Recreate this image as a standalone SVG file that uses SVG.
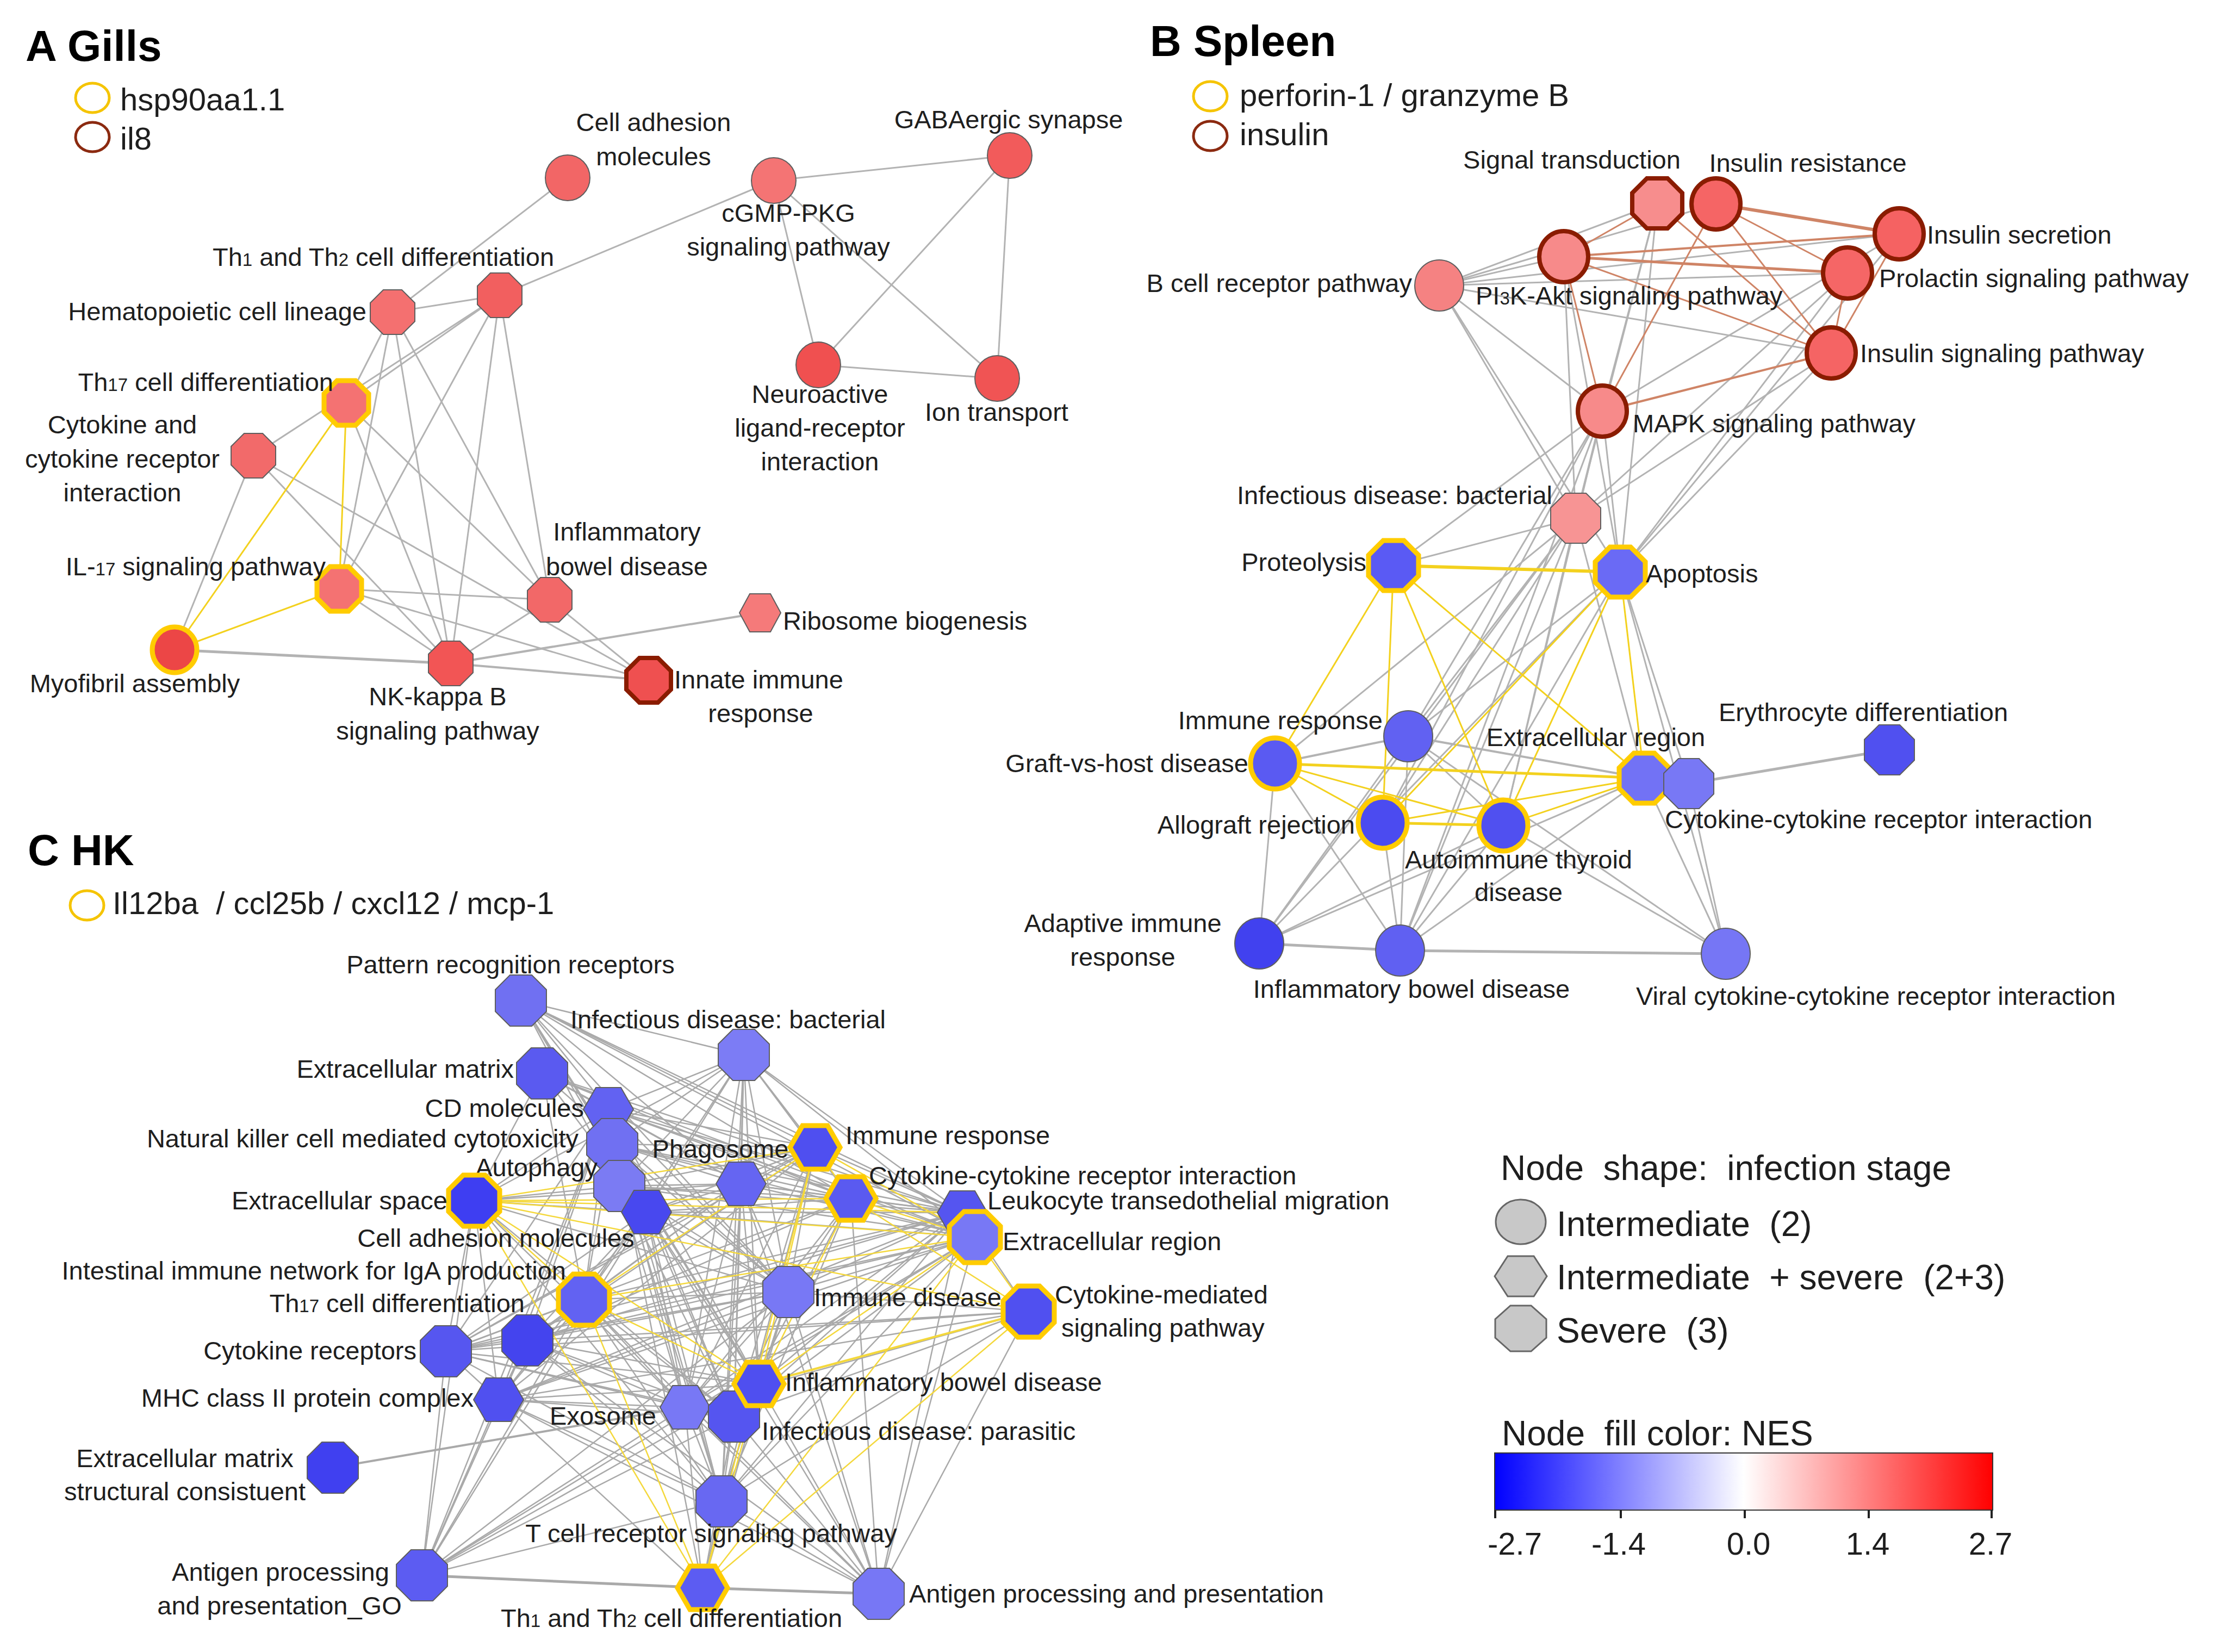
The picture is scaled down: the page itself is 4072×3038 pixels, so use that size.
<svg xmlns="http://www.w3.org/2000/svg" xmlns:xlink="http://www.w3.org/1999/xlink" width="4072" height="3038" viewBox="0 0 4072 3038">
<style>
text{font-family:"Liberation Sans",Arial,sans-serif;fill:#1e1e1e}
.t{font-size:47px}
.m{text-anchor:middle}
.r{text-anchor:end}
.title{font-size:80px;font-weight:bold;fill:#000}
.lg{font-size:58px}
.lg2{font-size:64px}
.sub{font-size:33px}
.e line{stroke:#b3b3b3;stroke-width:3}
.ec line{stroke:#a9a9a9;stroke-width:2.5}
.y line{stroke:#f3d11e;stroke-width:3}
.yc line{stroke:#f4d83c;stroke-width:2.5}
.br line{stroke:#cf8466;stroke-width:3}
.n{stroke:#5e5e5e;stroke-width:2}
.hy{stroke:#ffcc00;stroke-width:9}
.hb{stroke:#8a1c00;stroke-width:8}
.leg{fill:#c8c8c8;stroke:#666;stroke-width:3}
</style>
<defs>
<polygon id="octA" points="-17,-41 17,-41 41,-17 41,17 17,41 -17,41 -41,17 -41,-17"/>
<ellipse id="cirA" rx="41" ry="42"/>
<polygon id="hexA" points="-38,0 -19,-35 19,-35 38,0 19,35 -19,35"/>
<polygon id="octB" points="-19,-46 19,-46 46,-19 46,19 19,46 -19,46 -46,19 -46,-19"/>
<ellipse id="cirB" rx="45" ry="47"/>
<polygon id="octC" points="-20,-47 20,-47 47,-20 47,20 20,47 -20,47 -47,20 -47,-20"/>
<polygon id="hexC" points="-46,0 -23,-40 23,-40 46,0 23,40 -23,40"/>
<linearGradient id="nes" x1="0" y1="0" x2="1" y2="0">
<stop offset="0" stop-color="#0000ff"/>
<stop offset="0.5" stop-color="#ffffff"/>
<stop offset="1" stop-color="#ff0000"/>
</linearGradient>
</defs>
<rect width="4072" height="3038" fill="#fff"/>

<!-- ================= connectors ================= -->
<g id="connectors">
<g id="edges-A" class="e">
<line x1="1044" y1="327" x2="722" y2="574"/>
<line x1="1423" y1="332" x2="919" y2="543"/>
<line x1="1423" y1="332" x2="1857" y2="286"/>
<line x1="1423" y1="332" x2="1505" y2="671"/>
<line x1="1423" y1="332" x2="1834" y2="696"/>
<line x1="1857" y1="286" x2="1505" y2="671"/>
<line x1="1857" y1="286" x2="1834" y2="696"/>
<line x1="1505" y1="671" x2="1834" y2="696"/>
<line x1="722" y1="574" x2="919" y2="543"/>
<line x1="722" y1="574" x2="637" y2="741"/>
<line x1="722" y1="574" x2="624" y2="1083"/>
<line x1="722" y1="574" x2="829" y2="1220"/>
<line x1="722" y1="574" x2="1011" y2="1103"/>
<line x1="919" y1="543" x2="637" y2="741"/>
<line x1="919" y1="543" x2="466" y2="838"/>
<line x1="919" y1="543" x2="624" y2="1083"/>
<line x1="919" y1="543" x2="829" y2="1220"/>
<line x1="919" y1="543" x2="1011" y2="1103"/>
<line x1="637" y1="741" x2="829" y2="1220"/>
<line x1="637" y1="741" x2="1011" y2="1103"/>
<line x1="466" y1="838" x2="321" y2="1195"/>
<line x1="466" y1="838" x2="829" y2="1220"/>
<line x1="466" y1="838" x2="1193" y2="1251"/>
<line x1="624" y1="1083" x2="1011" y2="1103"/>
<line x1="624" y1="1083" x2="829" y2="1220"/>
<line x1="624" y1="1083" x2="1193" y2="1251"/>
<line x1="321" y1="1195" x2="829" y2="1220" style="stroke-width:5"/>
<line x1="829" y1="1220" x2="1011" y2="1103"/>
<line x1="829" y1="1220" x2="1398" y2="1127" style="stroke-width:4"/>
<line x1="829" y1="1220" x2="1193" y2="1251" style="stroke-width:4"/>
<line x1="1011" y1="1103" x2="1193" y2="1251"/>
</g>
<g id="edges-A-yellow" class="y">
<line x1="637" y1="741" x2="624" y2="1083"/>
<line x1="637" y1="741" x2="321" y2="1195"/>
<line x1="624" y1="1083" x2="321" y2="1195"/>
</g>

<g id="edges-B" class="e">
<line x1="2647" y1="525" x2="2876" y2="472"/>
<line x1="2647" y1="525" x2="3048" y2="374"/>
<line x1="2647" y1="525" x2="3156" y2="375"/>
<line x1="2647" y1="525" x2="3493" y2="430"/>
<line x1="2647" y1="525" x2="3398" y2="502"/>
<line x1="2647" y1="525" x2="3368" y2="649"/>
<line x1="2647" y1="525" x2="2947" y2="756"/>
<line x1="2647" y1="525" x2="2898" y2="953"/>
<line x1="2647" y1="525" x2="2980" y2="1052"/>
<line x1="3048" y1="374" x2="2947" y2="756"/>
<line x1="3048" y1="374" x2="2898" y2="953"/>
<line x1="3048" y1="374" x2="2980" y2="1052"/>
<line x1="2876" y1="472" x2="2898" y2="953"/>
<line x1="2876" y1="472" x2="2980" y2="1052"/>
<line x1="3398" y1="502" x2="2898" y2="953"/>
<line x1="3398" y1="502" x2="2980" y2="1052"/>
<line x1="3368" y1="649" x2="2898" y2="953"/>
<line x1="3368" y1="649" x2="2980" y2="1052"/>
<line x1="3493" y1="430" x2="2947" y2="756"/>
<line x1="3493" y1="430" x2="2980" y2="1052"/>
<line x1="2947" y1="756" x2="2898" y2="953"/>
<line x1="2947" y1="756" x2="2980" y2="1052"/>
<line x1="2947" y1="756" x2="2563" y2="1040"/>
<line x1="2947" y1="756" x2="2590" y2="1354"/>
<line x1="2947" y1="756" x2="2543" y2="1513"/>
<line x1="2947" y1="756" x2="2575" y2="1748"/>
<line x1="2947" y1="756" x2="2765" y2="1518"/>
<line x1="2898" y1="953" x2="2563" y2="1040"/>
<line x1="2898" y1="953" x2="2590" y2="1354"/>
<line x1="2898" y1="953" x2="2345" y2="1404"/>
<line x1="2898" y1="953" x2="2543" y2="1513"/>
<line x1="2898" y1="953" x2="2765" y2="1518"/>
<line x1="2898" y1="953" x2="2575" y2="1748"/>
<line x1="2898" y1="953" x2="2316" y2="1735"/>
<line x1="2898" y1="953" x2="3024" y2="1431"/>
<line x1="2980" y1="1052" x2="2590" y2="1354"/>
<line x1="2980" y1="1052" x2="2575" y2="1748"/>
<line x1="2980" y1="1052" x2="2316" y2="1735"/>
<line x1="2980" y1="1052" x2="3174" y2="1754"/>
<line x1="2980" y1="1052" x2="3106" y2="1441"/>
<line x1="2590" y1="1354" x2="2345" y2="1404" style="stroke-width:4"/>
<line x1="2590" y1="1354" x2="3024" y2="1431" style="stroke-width:4"/>
<line x1="2590" y1="1354" x2="2575" y2="1748"/>
<line x1="2590" y1="1354" x2="2316" y2="1735"/>
<line x1="2590" y1="1354" x2="2765" y2="1518"/>
<line x1="2590" y1="1354" x2="3174" y2="1754"/>
<line x1="2345" y1="1404" x2="2316" y2="1735"/>
<line x1="2345" y1="1404" x2="2575" y2="1748"/>
<line x1="2543" y1="1513" x2="2575" y2="1748"/>
<line x1="2765" y1="1518" x2="2575" y2="1748"/>
<line x1="2765" y1="1518" x2="2316" y2="1735"/>
<line x1="3024" y1="1431" x2="2316" y2="1735"/>
<line x1="3024" y1="1431" x2="2575" y2="1748"/>
<line x1="3024" y1="1431" x2="3174" y2="1754"/>
<line x1="3106" y1="1441" x2="3475" y2="1379" style="stroke-width:5"/>
<line x1="3106" y1="1441" x2="3174" y2="1754"/>
<line x1="2316" y1="1735" x2="2575" y2="1748" style="stroke-width:5"/>
<line x1="2575" y1="1748" x2="3174" y2="1754" style="stroke-width:5"/>
<line x1="2765" y1="1518" x2="3174" y2="1754"/>
</g>
<g id="edges-B-insulin" class="br">
<line x1="3048" y1="374" x2="2876" y2="472"/>
<line x1="3048" y1="374" x2="3368" y2="649"/>
<line x1="3156" y1="375" x2="3493" y2="430" style="stroke-width:6"/>
<line x1="3156" y1="375" x2="3398" y2="502"/>
<line x1="3156" y1="375" x2="3368" y2="649"/>
<line x1="3156" y1="375" x2="2947" y2="756"/>
<line x1="2876" y1="472" x2="3493" y2="430" style="stroke-width:4"/>
<line x1="2876" y1="472" x2="3398" y2="502" style="stroke-width:5"/>
<line x1="2876" y1="472" x2="3368" y2="649"/>
<line x1="2876" y1="472" x2="2947" y2="756"/>
<line x1="2947" y1="756" x2="3368" y2="649" style="stroke-width:4"/>
<line x1="3398" y1="502" x2="3368" y2="649"/>
<line x1="3493" y1="430" x2="3368" y2="649"/>
</g>
<g id="edges-B-yellow" class="y">
<line x1="2563" y1="1040" x2="2980" y2="1052" style="stroke-width:6"/>
<line x1="2563" y1="1040" x2="2345" y2="1404"/>
<line x1="2563" y1="1040" x2="2543" y2="1513"/>
<line x1="2563" y1="1040" x2="2765" y2="1518"/>
<line x1="2563" y1="1040" x2="3024" y2="1431"/>
<line x1="2980" y1="1052" x2="2543" y2="1513"/>
<line x1="2980" y1="1052" x2="2765" y2="1518"/>
<line x1="2980" y1="1052" x2="3024" y2="1431"/>
<line x1="2345" y1="1404" x2="3024" y2="1431" style="stroke-width:5"/>
<line x1="2345" y1="1404" x2="2543" y2="1513"/>
<line x1="2345" y1="1404" x2="2765" y2="1518"/>
<line x1="2543" y1="1513" x2="2765" y2="1518" style="stroke-width:5"/>
<line x1="2543" y1="1513" x2="3024" y2="1431"/>
<line x1="2765" y1="1518" x2="3024" y2="1431"/>
</g>

<g id="edges-C" class="ec">
<line x1="958" y1="1840" x2="1368" y2="1940"/>
<line x1="958" y1="1840" x2="1119" y2="2040"/>
<line x1="958" y1="1840" x2="1126" y2="2104"/>
<line x1="958" y1="1840" x2="1139" y2="2181"/>
<line x1="958" y1="1840" x2="1189" y2="2229"/>
<line x1="958" y1="1840" x2="1363" y2="2177"/>
<line x1="958" y1="1840" x2="1499" y2="2110"/>
<line x1="958" y1="1840" x2="1565" y2="2204"/>
<line x1="958" y1="1840" x2="1770" y2="2230"/>
<line x1="958" y1="1840" x2="1793" y2="2275"/>
<line x1="958" y1="1840" x2="1450" y2="2376"/>
<line x1="958" y1="1840" x2="1396" y2="2545"/>
<line x1="1368" y1="1940" x2="1119" y2="2040"/>
<line x1="1368" y1="1940" x2="1126" y2="2104"/>
<line x1="1368" y1="1940" x2="1139" y2="2181"/>
<line x1="1368" y1="1940" x2="1363" y2="2177"/>
<line x1="1368" y1="1940" x2="1499" y2="2110"/>
<line x1="1368" y1="1940" x2="1565" y2="2204"/>
<line x1="1368" y1="1940" x2="1770" y2="2230"/>
<line x1="1368" y1="1940" x2="1793" y2="2275"/>
<line x1="1368" y1="1940" x2="1450" y2="2376"/>
<line x1="1368" y1="1940" x2="872" y2="2208"/>
<line x1="1368" y1="1940" x2="1189" y2="2229"/>
<line x1="1368" y1="1940" x2="1074" y2="2390"/>
<line x1="1368" y1="1940" x2="1396" y2="2545"/>
<line x1="1368" y1="1940" x2="1260" y2="2588"/>
<line x1="1368" y1="1940" x2="1350" y2="2605"/>
<line x1="1368" y1="1940" x2="1327" y2="2761"/>
<line x1="997" y1="1974" x2="1119" y2="2040"/>
<line x1="997" y1="1974" x2="872" y2="2208"/>
<line x1="997" y1="1974" x2="1189" y2="2229"/>
<line x1="997" y1="1974" x2="1363" y2="2177"/>
<line x1="997" y1="1974" x2="1565" y2="2204"/>
<line x1="997" y1="1974" x2="1770" y2="2230"/>
<line x1="997" y1="1974" x2="1793" y2="2275"/>
<line x1="997" y1="1974" x2="1450" y2="2376"/>
<line x1="997" y1="1974" x2="1074" y2="2390"/>
<line x1="1119" y1="2040" x2="1126" y2="2104"/>
<line x1="1119" y1="2040" x2="1139" y2="2181"/>
<line x1="1119" y1="2040" x2="872" y2="2208"/>
<line x1="1119" y1="2040" x2="1189" y2="2229"/>
<line x1="1119" y1="2040" x2="1363" y2="2177"/>
<line x1="1119" y1="2040" x2="1499" y2="2110"/>
<line x1="1119" y1="2040" x2="1565" y2="2204"/>
<line x1="1119" y1="2040" x2="1770" y2="2230"/>
<line x1="1119" y1="2040" x2="1793" y2="2275"/>
<line x1="1119" y1="2040" x2="1074" y2="2390"/>
<line x1="1119" y1="2040" x2="970" y2="2465"/>
<line x1="1119" y1="2040" x2="820" y2="2485"/>
<line x1="1119" y1="2040" x2="1450" y2="2376"/>
<line x1="1119" y1="2040" x2="1396" y2="2545"/>
<line x1="1119" y1="2040" x2="1260" y2="2588"/>
<line x1="1119" y1="2040" x2="1350" y2="2605"/>
<line x1="1119" y1="2040" x2="1327" y2="2761"/>
<line x1="1119" y1="2040" x2="1292" y2="2920"/>
<line x1="1119" y1="2040" x2="776" y2="2897"/>
<line x1="1119" y1="2040" x2="917" y2="2574"/>
<line x1="1126" y1="2104" x2="1363" y2="2177"/>
<line x1="1126" y1="2104" x2="1499" y2="2110"/>
<line x1="1126" y1="2104" x2="1565" y2="2204"/>
<line x1="1126" y1="2104" x2="1770" y2="2230"/>
<line x1="1126" y1="2104" x2="1793" y2="2275"/>
<line x1="1126" y1="2104" x2="1450" y2="2376"/>
<line x1="1126" y1="2104" x2="1396" y2="2545"/>
<line x1="1126" y1="2104" x2="1074" y2="2390"/>
<line x1="1126" y1="2104" x2="1327" y2="2761"/>
<line x1="1139" y1="2181" x2="1363" y2="2177"/>
<line x1="1139" y1="2181" x2="872" y2="2208"/>
<line x1="1139" y1="2181" x2="1499" y2="2110"/>
<line x1="1139" y1="2181" x2="1565" y2="2204"/>
<line x1="1139" y1="2181" x2="1770" y2="2230"/>
<line x1="1139" y1="2181" x2="1793" y2="2275"/>
<line x1="1139" y1="2181" x2="1450" y2="2376"/>
<line x1="1139" y1="2181" x2="1260" y2="2588"/>
<line x1="1139" y1="2181" x2="1350" y2="2605"/>
<line x1="872" y1="2208" x2="1189" y2="2229"/>
<line x1="872" y1="2208" x2="1363" y2="2177"/>
<line x1="872" y1="2208" x2="1450" y2="2376"/>
<line x1="872" y1="2208" x2="917" y2="2574"/>
<line x1="872" y1="2208" x2="820" y2="2485"/>
<line x1="872" y1="2208" x2="1260" y2="2588"/>
<line x1="872" y1="2208" x2="1350" y2="2605"/>
<line x1="872" y1="2208" x2="1327" y2="2761"/>
<line x1="872" y1="2208" x2="776" y2="2897"/>
<line x1="1189" y1="2229" x2="1363" y2="2177"/>
<line x1="1189" y1="2229" x2="1499" y2="2110"/>
<line x1="1189" y1="2229" x2="1565" y2="2204"/>
<line x1="1189" y1="2229" x2="1770" y2="2230"/>
<line x1="1189" y1="2229" x2="1793" y2="2275"/>
<line x1="1189" y1="2229" x2="1450" y2="2376"/>
<line x1="1189" y1="2229" x2="1074" y2="2390"/>
<line x1="1189" y1="2229" x2="970" y2="2465"/>
<line x1="1189" y1="2229" x2="820" y2="2485"/>
<line x1="1189" y1="2229" x2="917" y2="2574"/>
<line x1="1189" y1="2229" x2="1396" y2="2545"/>
<line x1="1189" y1="2229" x2="1260" y2="2588"/>
<line x1="1189" y1="2229" x2="1350" y2="2605"/>
<line x1="1189" y1="2229" x2="1327" y2="2761"/>
<line x1="1189" y1="2229" x2="776" y2="2897"/>
<line x1="1189" y1="2229" x2="1616" y2="2931"/>
<line x1="1363" y1="2177" x2="1499" y2="2110"/>
<line x1="1363" y1="2177" x2="1565" y2="2204"/>
<line x1="1363" y1="2177" x2="1770" y2="2230"/>
<line x1="1363" y1="2177" x2="1793" y2="2275"/>
<line x1="1363" y1="2177" x2="1450" y2="2376"/>
<line x1="1363" y1="2177" x2="1074" y2="2390"/>
<line x1="1363" y1="2177" x2="970" y2="2465"/>
<line x1="1363" y1="2177" x2="820" y2="2485"/>
<line x1="1363" y1="2177" x2="1396" y2="2545"/>
<line x1="1363" y1="2177" x2="1260" y2="2588"/>
<line x1="1363" y1="2177" x2="1350" y2="2605"/>
<line x1="1363" y1="2177" x2="1327" y2="2761"/>
<line x1="1363" y1="2177" x2="1616" y2="2931"/>
<line x1="1499" y1="2110" x2="1770" y2="2230"/>
<line x1="1499" y1="2110" x2="1450" y2="2376"/>
<line x1="1499" y1="2110" x2="970" y2="2465"/>
<line x1="1499" y1="2110" x2="820" y2="2485"/>
<line x1="1499" y1="2110" x2="917" y2="2574"/>
<line x1="1499" y1="2110" x2="1260" y2="2588"/>
<line x1="1499" y1="2110" x2="1350" y2="2605"/>
<line x1="1499" y1="2110" x2="1327" y2="2761"/>
<line x1="1565" y1="2204" x2="1770" y2="2230"/>
<line x1="1565" y1="2204" x2="1450" y2="2376"/>
<line x1="1565" y1="2204" x2="970" y2="2465"/>
<line x1="1565" y1="2204" x2="820" y2="2485"/>
<line x1="1565" y1="2204" x2="1260" y2="2588"/>
<line x1="1565" y1="2204" x2="1350" y2="2605"/>
<line x1="1565" y1="2204" x2="1327" y2="2761"/>
<line x1="1565" y1="2204" x2="1616" y2="2931"/>
<line x1="1770" y1="2230" x2="1793" y2="2275"/>
<line x1="1770" y1="2230" x2="1450" y2="2376"/>
<line x1="1770" y1="2230" x2="1892" y2="2412"/>
<line x1="1770" y1="2230" x2="1074" y2="2390"/>
<line x1="1770" y1="2230" x2="970" y2="2465"/>
<line x1="1770" y1="2230" x2="820" y2="2485"/>
<line x1="1770" y1="2230" x2="917" y2="2574"/>
<line x1="1770" y1="2230" x2="1396" y2="2545"/>
<line x1="1770" y1="2230" x2="1260" y2="2588"/>
<line x1="1770" y1="2230" x2="1350" y2="2605"/>
<line x1="1770" y1="2230" x2="1327" y2="2761"/>
<line x1="1770" y1="2230" x2="1616" y2="2931"/>
<line x1="1793" y1="2275" x2="1450" y2="2376"/>
<line x1="1793" y1="2275" x2="970" y2="2465"/>
<line x1="1793" y1="2275" x2="820" y2="2485"/>
<line x1="1793" y1="2275" x2="917" y2="2574"/>
<line x1="1793" y1="2275" x2="1260" y2="2588"/>
<line x1="1793" y1="2275" x2="1350" y2="2605"/>
<line x1="1793" y1="2275" x2="1327" y2="2761"/>
<line x1="1793" y1="2275" x2="1616" y2="2931"/>
<line x1="1793" y1="2275" x2="776" y2="2897"/>
<line x1="1074" y1="2390" x2="1450" y2="2376"/>
<line x1="1074" y1="2390" x2="970" y2="2465"/>
<line x1="1074" y1="2390" x2="820" y2="2485"/>
<line x1="1074" y1="2390" x2="917" y2="2574"/>
<line x1="1074" y1="2390" x2="1260" y2="2588"/>
<line x1="1074" y1="2390" x2="1350" y2="2605"/>
<line x1="1074" y1="2390" x2="1327" y2="2761"/>
<line x1="1074" y1="2390" x2="776" y2="2897"/>
<line x1="1074" y1="2390" x2="1616" y2="2931"/>
<line x1="970" y1="2465" x2="820" y2="2485"/>
<line x1="970" y1="2465" x2="1450" y2="2376"/>
<line x1="970" y1="2465" x2="917" y2="2574"/>
<line x1="970" y1="2465" x2="1396" y2="2545"/>
<line x1="970" y1="2465" x2="1260" y2="2588"/>
<line x1="970" y1="2465" x2="1350" y2="2605"/>
<line x1="970" y1="2465" x2="1327" y2="2761"/>
<line x1="970" y1="2465" x2="776" y2="2897"/>
<line x1="970" y1="2465" x2="1616" y2="2931"/>
<line x1="970" y1="2465" x2="1892" y2="2412"/>
<line x1="820" y1="2485" x2="1450" y2="2376"/>
<line x1="820" y1="2485" x2="917" y2="2574"/>
<line x1="820" y1="2485" x2="1396" y2="2545"/>
<line x1="820" y1="2485" x2="1260" y2="2588"/>
<line x1="820" y1="2485" x2="1350" y2="2605"/>
<line x1="820" y1="2485" x2="1327" y2="2761"/>
<line x1="820" y1="2485" x2="1892" y2="2412"/>
<line x1="820" y1="2485" x2="776" y2="2897"/>
<line x1="1450" y1="2376" x2="1892" y2="2412"/>
<line x1="1450" y1="2376" x2="1396" y2="2545"/>
<line x1="1450" y1="2376" x2="917" y2="2574"/>
<line x1="1450" y1="2376" x2="1260" y2="2588"/>
<line x1="1450" y1="2376" x2="1350" y2="2605"/>
<line x1="1450" y1="2376" x2="1327" y2="2761"/>
<line x1="1450" y1="2376" x2="1292" y2="2920"/>
<line x1="1450" y1="2376" x2="1616" y2="2931"/>
<line x1="1450" y1="2376" x2="776" y2="2897"/>
<line x1="1892" y1="2412" x2="917" y2="2574"/>
<line x1="1892" y1="2412" x2="1260" y2="2588"/>
<line x1="1892" y1="2412" x2="1350" y2="2605"/>
<line x1="1892" y1="2412" x2="1327" y2="2761"/>
<line x1="1892" y1="2412" x2="1616" y2="2931"/>
<line x1="917" y1="2574" x2="1260" y2="2588"/>
<line x1="917" y1="2574" x2="1350" y2="2605"/>
<line x1="917" y1="2574" x2="1327" y2="2761"/>
<line x1="917" y1="2574" x2="776" y2="2897"/>
<line x1="917" y1="2574" x2="1292" y2="2920"/>
<line x1="917" y1="2574" x2="1616" y2="2931"/>
<line x1="917" y1="2574" x2="1396" y2="2545"/>
<line x1="1396" y1="2545" x2="1260" y2="2588"/>
<line x1="1396" y1="2545" x2="1350" y2="2605"/>
<line x1="1396" y1="2545" x2="1327" y2="2761"/>
<line x1="1396" y1="2545" x2="1616" y2="2931"/>
<line x1="1396" y1="2545" x2="776" y2="2897"/>
<line x1="1260" y1="2588" x2="1350" y2="2605"/>
<line x1="1260" y1="2588" x2="1327" y2="2761"/>
<line x1="1260" y1="2588" x2="612" y2="2699" style="stroke-width:4"/>
<line x1="1260" y1="2588" x2="776" y2="2897"/>
<line x1="1260" y1="2588" x2="1292" y2="2920"/>
<line x1="1260" y1="2588" x2="1616" y2="2931"/>
<line x1="1350" y1="2605" x2="1327" y2="2761"/>
<line x1="1350" y1="2605" x2="1292" y2="2920"/>
<line x1="1350" y1="2605" x2="1616" y2="2931"/>
<line x1="1350" y1="2605" x2="776" y2="2897"/>
<line x1="1327" y1="2761" x2="1292" y2="2920"/>
<line x1="1327" y1="2761" x2="1616" y2="2931"/>
<line x1="1327" y1="2761" x2="776" y2="2897"/>
<line x1="776" y1="2897" x2="1292" y2="2920" style="stroke-width:5"/>
<line x1="1292" y1="2920" x2="1616" y2="2931" style="stroke-width:5"/>
</g>
<g id="edges-C-yellow" class="yc">
<line x1="872" y1="2208" x2="1499" y2="2110"/>
<line x1="872" y1="2208" x2="1565" y2="2204"/>
<line x1="872" y1="2208" x2="1793" y2="2275"/>
<line x1="872" y1="2208" x2="1770" y2="2230"/>
<line x1="872" y1="2208" x2="1074" y2="2390"/>
<line x1="872" y1="2208" x2="1892" y2="2412"/>
<line x1="872" y1="2208" x2="1396" y2="2545"/>
<line x1="872" y1="2208" x2="1292" y2="2920"/>
<line x1="1499" y1="2110" x2="1565" y2="2204"/>
<line x1="1499" y1="2110" x2="1793" y2="2275"/>
<line x1="1499" y1="2110" x2="1074" y2="2390"/>
<line x1="1499" y1="2110" x2="1396" y2="2545"/>
<line x1="1499" y1="2110" x2="1292" y2="2920"/>
<line x1="1565" y1="2204" x2="1793" y2="2275"/>
<line x1="1565" y1="2204" x2="1892" y2="2412"/>
<line x1="1565" y1="2204" x2="1396" y2="2545"/>
<line x1="1793" y1="2275" x2="1074" y2="2390"/>
<line x1="1793" y1="2275" x2="1892" y2="2412"/>
<line x1="1793" y1="2275" x2="1396" y2="2545"/>
<line x1="1793" y1="2275" x2="1292" y2="2920"/>
<line x1="1074" y1="2390" x2="1396" y2="2545"/>
<line x1="1074" y1="2390" x2="1292" y2="2920"/>
<line x1="1892" y1="2412" x2="1396" y2="2545" style="stroke-width:4"/>
<line x1="1892" y1="2412" x2="1292" y2="2920"/>
<line x1="1396" y1="2545" x2="1292" y2="2920"/>
</g>
</g>

<!-- ================= Panel A ================= -->
<g id="panel-A">
<text class="title" x="47" y="112">A Gills</text>
<g id="legend-A">
<ellipse cx="170" cy="180" rx="31" ry="27" fill="none" stroke="#f5c400" stroke-width="5"/>
<text class="lg" x="221" y="203">hsp90aa1.1</text>
<ellipse cx="170" cy="252" rx="31" ry="27" fill="none" stroke="#8b2a10" stroke-width="5"/>
<text class="lg" x="221" y="275">il8</text>
</g>
<g id="a-cell-adhesion"><use href="#cirA" x="1044" y="327" fill="#f26666" class="n"/>
<text class="t m" x="1202" y="241">Cell adhesion</text><text class="t m" x="1202" y="304">molecules</text></g>
<g id="a-cgmp"><use href="#cirA" x="1423" y="332" fill="#f47474" class="n"/>
<text class="t m" x="1450" y="408">cGMP-PKG</text><text class="t m" x="1450" y="470">signaling pathway</text></g>
<g id="a-gaba"><use href="#cirA" x="1857" y="286" fill="#f25b5b" class="n"/>
<text class="t m" x="1855" y="236">GABAergic synapse</text></g>
<g id="a-neuro"><use href="#cirA" x="1505" y="671" fill="#f05050" class="n"/>
<text class="t m" x="1508" y="741">Neuroactive</text><text class="t m" x="1508" y="803">ligand-receptor</text><text class="t m" x="1508" y="865">interaction</text></g>
<g id="a-ion"><use href="#cirA" x="1834" y="696" fill="#f05454" class="n"/>
<text class="t m" x="1833" y="774">Ion transport</text></g>
<g id="a-th12"><use href="#octA" x="919" y="543" fill="#f25f5f" class="n"/>
<text class="t m" x="705" y="489">Th<tspan class="sub">1</tspan> and Th<tspan class="sub">2</tspan> cell differentiation</text></g>
<g id="a-hema"><use href="#octA" x="722" y="574" fill="#f47070" class="n"/>
<text class="t r" x="674" y="589">Hematopoietic cell lineage</text></g>
<g id="a-th17"><use href="#octA" x="637" y="741" fill="#f47272" class="hy"/>
<text class="t r" x="613" y="719">Th<tspan class="sub">17</tspan> cell differentiation</text></g>
<g id="a-cyto"><use href="#octA" x="466" y="838" fill="#f26a6a" class="n"/>
<text class="t m" x="225" y="797">Cytokine and</text><text class="t m" x="225" y="860">cytokine receptor</text><text class="t m" x="225" y="922">interaction</text></g>
<g id="a-il17"><use href="#octA" x="624" y="1083" fill="#f47272" class="hy"/>
<text class="t r" x="599" y="1058">IL-<tspan class="sub">17</tspan> signaling pathway</text></g>
<g id="a-ibd"><use href="#octA" x="1011" y="1103" fill="#f26868" class="n"/>
<text class="t m" x="1153" y="994">Inflammatory</text><text class="t m" x="1153" y="1058">bowel disease</text></g>
<g id="a-ribo"><use href="#hexA" x="1398" y="1127" fill="#f57a7a" class="n"/>
<text class="t" x="1440" y="1158">Ribosome biogenesis</text></g>
<g id="a-myo"><use href="#cirA" x="321" y="1195" fill="#ec4646" class="hy"/>
<text class="t m" x="248" y="1273">Myofibril assembly</text></g>
<g id="a-nfkb"><use href="#octA" x="829" y="1220" fill="#f25555" class="n"/>
<text class="t m" x="805" y="1297">NK-kappa B</text><text class="t m" x="805" y="1360">signaling pathway</text></g>
<g id="a-innate"><use href="#octA" x="1193" y="1251" fill="#ef5050" class="hb"/>
<text class="t" x="1240" y="1266">Innate immune</text><text class="t m" x="1399" y="1328">response</text></g>
</g>

<!-- ================= Panel B ================= -->
<g id="panel-B">
<text class="title" x="2115" y="103">B Spleen</text>
<g id="legend-B">
<ellipse cx="2226" cy="177" rx="31" ry="27" fill="none" stroke="#f5c400" stroke-width="5"/>
<text class="lg" x="2280" y="195">perforin-1 / granzyme B</text>
<ellipse cx="2226" cy="250" rx="31" ry="27" fill="none" stroke="#8b2a10" stroke-width="5"/>
<text class="lg" x="2280" y="267">insulin</text>
</g>
<g id="b-st"><use href="#octB" x="3048" y="374" fill="#f78d8d" class="hb"/>
<text class="t m" x="2891" y="310">Signal transduction</text></g>
<g id="b-irs"><use href="#cirB" x="3156" y="375" fill="#f56565" class="hb"/>
<text class="t m" x="3325" y="316">Insulin resistance</text></g>
<g id="b-isec"><use href="#cirB" x="3493" y="430" fill="#f56262" class="hb"/>
<text class="t" x="3544" y="448">Insulin secretion</text></g>
<g id="b-bcr"><use href="#cirB" x="2647" y="525" fill="#f58282" class="n"/>
<text class="t r" x="2597" y="537">B cell receptor pathway</text></g>
<g id="b-pi3k"><use href="#cirB" x="2876" y="472" fill="#f78a8a" class="hb"/>
<text class="t" x="2714" y="560">PI<tspan class="sub">3</tspan>K-Akt signaling pathway</text></g>
<g id="b-prl"><use href="#cirB" x="3398" y="502" fill="#f56666" class="hb"/>
<text class="t" x="3456" y="528">Prolactin signaling pathway</text></g>
<g id="b-isig"><use href="#cirB" x="3368" y="649" fill="#f56464" class="hb"/>
<text class="t" x="3421" y="666">Insulin signaling pathway</text></g>
<g id="b-mapk"><use href="#cirB" x="2947" y="756" fill="#f78a8a" class="hb"/>
<text class="t" x="3003" y="795">MAPK signaling pathway</text></g>
<g id="b-idb"><use href="#octB" x="2898" y="953" fill="#f79494" class="n"/>
<text class="t r" x="2855" y="927">Infectious disease: bacterial</text></g>
<g id="b-prot"><use href="#octB" x="2563" y="1040" fill="#5a5af4" class="hy"/>
<text class="t r" x="2513" y="1050">Proteolysis</text></g>
<g id="b-apop"><use href="#octB" x="2980" y="1052" fill="#6a6af5" class="hy"/>
<text class="t" x="3027" y="1071">Apoptosis</text></g>
<g id="b-imr"><use href="#cirB" x="2590" y="1354" fill="#6161f2" class="n"/>
<text class="t r" x="2543" y="1341">Immune response</text></g>
<g id="b-graft"><use href="#cirB" x="2345" y="1404" fill="#5a5af2" class="hy"/>
<text class="t r" x="2296" y="1420">Graft-vs-host disease</text></g>
<g id="b-er"><use href="#octB" x="3024" y="1431" fill="#7272f5" class="hy"/>
<text class="t m" x="2935" y="1372">Extracellular region</text></g>
<g id="b-cc"><use href="#octB" x="3106" y="1441" fill="#7878f5" class="n"/>
<text class="t" x="3062" y="1523">Cytokine-cytokine receptor interaction</text></g>
<g id="b-ery"><use href="#octB" x="3475" y="1379" fill="#5050f0" class="n"/>
<text class="t m" x="3427" y="1326">Erythrocyte differentiation</text></g>
<g id="b-allo"><use href="#cirB" x="2543" y="1513" fill="#4b4bf0" class="hy"/>
<text class="t r" x="2492" y="1533">Allograft rejection</text></g>
<g id="b-auto"><use href="#cirB" x="2765" y="1518" fill="#5050f0" class="hy"/>
<text class="t m" x="2793" y="1597">Autoimmune thyroid</text><text class="t m" x="2793" y="1657">disease</text></g>
<g id="b-adapt"><use href="#cirB" x="2316" y="1735" fill="#4141ef" class="n"/>
<text class="t m" x="2065" y="1714">Adaptive immune</text><text class="t m" x="2065" y="1776">response</text></g>
<g id="b-ibd"><use href="#cirB" x="2575" y="1748" fill="#6060f2" class="n"/>
<text class="t m" x="2596" y="1835">Inflammatory bowel disease</text></g>
<g id="b-viral"><use href="#cirB" x="3174" y="1754" fill="#7676f5" class="n"/>
<text class="t m" x="3450" y="1848">Viral cytokine-cytokine receptor interaction</text></g>
</g>

<!-- ================= Panel C ================= -->
<g id="panel-C">
<text class="title" x="51" y="1591">C HK</text>
<g id="legend-C">
<ellipse cx="160" cy="1665" rx="31" ry="27" fill="none" stroke="#f5c400" stroke-width="5"/>
<text class="lg" x="207" y="1681" xml:space="preserve">Il12ba  / ccl25b / cxcl12 / mcp-1</text>
</g>
<g id="c-prr"><use href="#octC" x="958" y="1840" fill="#7070f2" class="n"/>
<text class="t m" x="939" y="1790">Pattern recognition receptors</text></g>
<g id="c-idb"><use href="#octC" x="1368" y="1940" fill="#7c7cf5" class="n"/>
<text class="t" x="1049" y="1891">Infectious disease: bacterial</text></g>
<g id="c-ecm"><use href="#octC" x="997" y="1974" fill="#5a5af0" class="n"/>
<text class="t r" x="945" y="1982">Extracellular matrix</text></g>
<g id="c-cd"><use href="#hexC" x="1119" y="2040" fill="#6262f2" class="n"/>
<text class="t r" x="1074" y="2054">CD molecules</text></g>
<g id="c-nk"><use href="#octC" x="1126" y="2104" fill="#7070f2" class="n"/>
<text class="t r" x="1064" y="2110">Natural killer cell mediated cytotoxicity</text></g>
<g id="c-aut"><use href="#octC" x="1139" y="2181" fill="#7b7bf3" class="n"/>
<text class="t r" x="1099" y="2163">Autophagy</text></g>
<g id="c-cam"><use href="#hexC" x="1189" y="2229" fill="#4848ef" class="n"/>
<text class="t m" x="912" y="2293">Cell adhesion molecules</text></g>
<g id="c-es"><use href="#octC" x="872" y="2208" fill="#3e3ef2" class="hy"/>
<text class="t r" x="823" y="2224">Extracellular space</text></g>
<g id="c-pha"><use href="#hexC" x="1363" y="2177" fill="#6565f2" class="n"/>
<text class="t m" x="1325" y="2129">Phagosome</text></g>
<g id="c-ir"><use href="#hexC" x="1499" y="2110" fill="#4f4ff0" class="hy"/>
<text class="t" x="1555" y="2104">Immune response</text></g>
<g id="c-cc"><use href="#hexC" x="1565" y="2204" fill="#5a5af0" class="hy"/>
<text class="t" x="1598" y="2178">Cytokine-cytokine receptor interaction</text></g>
<g id="c-ltm"><use href="#hexC" x="1770" y="2230" fill="#5555f0" class="n"/>
<text class="t" x="1816" y="2224">Leukocyte transedothelial migration</text></g>
<g id="c-er"><use href="#octC" x="1793" y="2275" fill="#7878f5" class="hy"/>
<text class="t" x="1844" y="2299">Extracellular region</text></g>
<g id="c-in"><use href="#octC" x="1074" y="2390" fill="#6262f2" class="hy"/>
<text class="t r" x="1041" y="2353">Intestinal immune network for IgA production</text></g>
<g id="c-th17"><use href="#octC" x="970" y="2465" fill="#4444ee" class="n"/>
<text class="t r" x="965" y="2413">Th<tspan class="sub">17</tspan> cell differentiation</text></g>
<g id="c-cr"><use href="#octC" x="820" y="2485" fill="#5656f0" class="n"/>
<text class="t r" x="766" y="2500">Cytokine receptors</text></g>
<g id="c-id"><use href="#octC" x="1450" y="2376" fill="#7878f5" class="n"/>
<text class="t" x="1497" y="2402">Immune disease</text></g>
<g id="c-cm"><use href="#octC" x="1892" y="2412" fill="#5050f0" class="hy"/>
<text class="t" x="1940" y="2397">Cytokine-mediated</text><text class="t" x="1952" y="2458">signaling pathway</text></g>
<g id="c-mhc"><use href="#hexC" x="917" y="2574" fill="#5050f0" class="n"/>
<text class="t r" x="871" y="2587">MHC class II protein complex</text></g>
<g id="c-exo"><use href="#hexC" x="1260" y="2588" fill="#7878f5" class="n"/>
<text class="t m" x="1109" y="2620">Exosome</text></g>
<g id="c-idp"><use href="#octC" x="1350" y="2605" fill="#5555f0" class="n"/>
<text class="t" x="1401" y="2648">Infectious disease: parasitic</text></g>
<g id="c-ibd"><use href="#hexC" x="1396" y="2545" fill="#4f4ff0" class="hy"/>
<text class="t" x="1444" y="2558">Inflammatory bowel disease</text></g>
<g id="c-ecms"><use href="#octC" x="612" y="2699" fill="#4040f0" class="n"/>
<text class="t m" x="340" y="2698">Extracellular matrix</text><text class="t m" x="340" y="2759">structural consistuent</text></g>
<g id="c-tcr"><use href="#octC" x="1327" y="2761" fill="#6868f2" class="n"/>
<text class="t m" x="1308" y="2836">T cell receptor signaling pathway</text></g>
<g id="c-ago"><use href="#octC" x="776" y="2897" fill="#5c5cf2" class="n"/>
<text class="t m" x="516" y="2907">Antigen processing</text><text class="t m" x="514" y="2969">and presentation_GO</text></g>
<g id="c-th12"><use href="#hexC" x="1292" y="2920" fill="#5c5cf2" class="hy"/>
<text class="t m" x="1235" y="2992">Th<tspan class="sub">1</tspan> and Th<tspan class="sub">2</tspan> cell differentiation</text></g>
<g id="c-ap"><use href="#octC" x="1616" y="2931" fill="#7777f5" class="n"/>
<text class="t" x="1672" y="2947">Antigen processing and presentation</text></g>
</g>

<!-- ================= Legend ================= -->
<g id="legend">
<text class="lg2" x="2760" y="2170" xml:space="preserve">Node  shape:  infection stage</text>
<ellipse class="leg" cx="2797" cy="2247" rx="46" ry="41"/>
<text class="lg2" x="2863" y="2273" xml:space="preserve">Intermediate  (2)</text>
<polygon class="leg" points="2749,2347 2773,2310 2821,2310 2845,2347 2821,2384 2773,2384"/>
<text class="lg2" x="2863" y="2371" xml:space="preserve">Intermediate  + severe  (2+3)</text>
<polygon class="leg" points="2778,2401 2816,2401 2844,2426 2844,2460 2816,2485 2778,2485 2750,2460 2750,2426"/>
<text class="lg2" x="2863" y="2469" xml:space="preserve">Severe  (3)</text>
<text class="lg2" x="2762" y="2658" xml:space="preserve">Node  fill color: NES</text>
<rect x="2749" y="2672" width="916" height="105" fill="url(#nes)" stroke="#333" stroke-width="2"/>
<g stroke="#222" stroke-width="4">
<line x1="2750" y1="2777" x2="2750" y2="2792"/>
<line x1="2981" y1="2777" x2="2981" y2="2792"/>
<line x1="3209" y1="2777" x2="3209" y2="2792"/>
<line x1="3437" y1="2777" x2="3437" y2="2792"/>
<line x1="3663" y1="2777" x2="3663" y2="2792"/>
</g>
<text class="lg m" x="2786" y="2859">-2.7</text>
<text class="lg m" x="2977" y="2859">-1.4</text>
<text class="lg m" x="3216" y="2859">0.0</text>
<text class="lg m" x="3435" y="2859">1.4</text>
<text class="lg m" x="3661" y="2859">2.7</text>
</g>
</svg>
